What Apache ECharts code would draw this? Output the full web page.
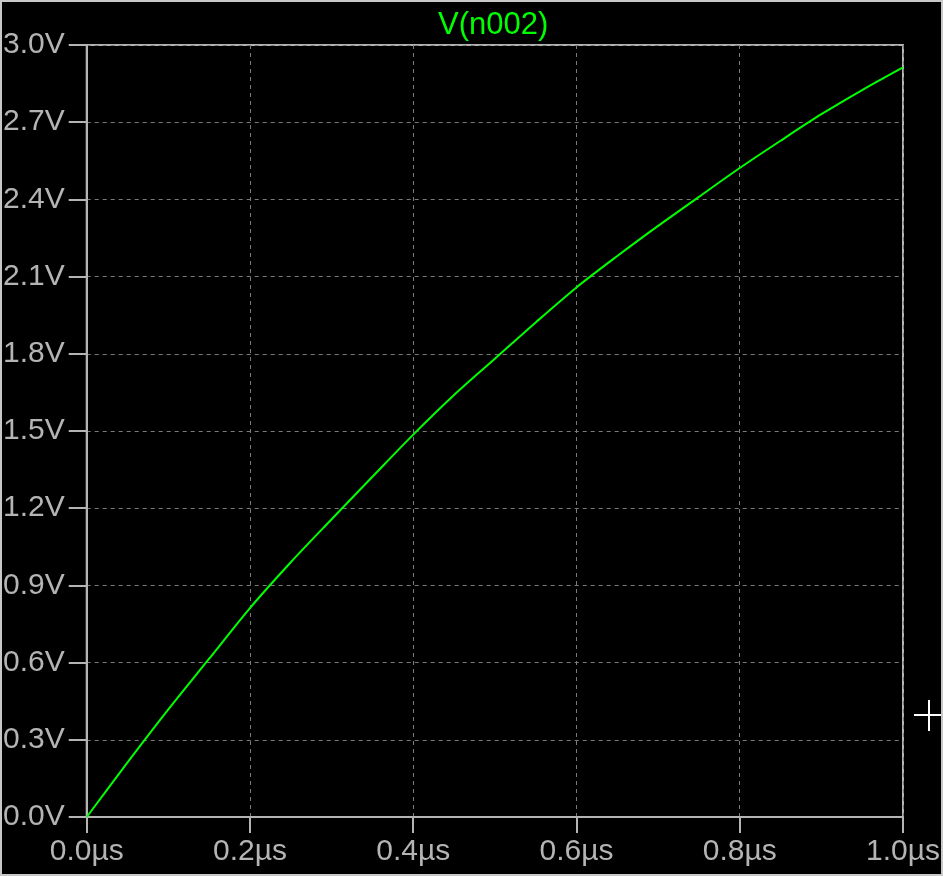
<!DOCTYPE html>
<html>
<head>
<meta charset="utf-8">
<script src="https://cdn.jsdelivr.net/npm/echarts@6/dist/echarts.min.js"></script>
<style>
html,body{margin:0;padding:0;background:#000;}
#chart{width:943px;height:876px;}
</style>
</head>
<body>
<div id="chart"></div>
<script>
var titleText = 'V(n002)';
var timeUs = [0, 0.05, 0.1, 0.15, 0.2, 0.25, 0.3, 0.35, 0.4, 0.45, 0.5, 0.55, 0.6, 0.65, 0.7, 0.75, 0.8, 0.85, 0.9, 0.95, 1.0];
var voltage = [0, 0.212, 0.418, 0.615, 0.812, 0.99, 1.157, 1.322, 1.486, 1.64, 1.781, 1.922, 2.058, 2.18, 2.297, 2.41, 2.522, 2.628, 2.731, 2.825, 2.913];
var xTicks = [0.0, 0.2, 0.4, 0.6, 0.8, 1.0];
var yTicks = [0.0, 0.3, 0.6, 0.9, 1.2, 1.5, 1.8, 2.1, 2.4, 2.7, 3.0];

var seriesData = timeUs.map(function (t, i) { return [t, voltage[i]]; });
var FONT = 'Liberation Sans';
var GRAY = '#b4b4b4';

var chart = echarts.init(document.getElementById('chart'));
chart.setOption({
  backgroundColor: '#000',
  animation: false,
  title: {
    text: titleText,
    left: 433,
    top: 5,
    textStyle: { color: '#00ff00', fontFamily: FONT, fontSize: 31, fontWeight: 'normal' }
  },
  grid: {
    left: 85, right: 40, top: 45, bottom: 59,
    show: true, borderColor: GRAY, borderWidth: 2, backgroundColor: 'transparent'
  },
  xAxis: {
    type: 'value',
    min: xTicks[0], max: xTicks[xTicks.length - 1], interval: 0.2,
    axisLine: { show: true, lineStyle: { color: GRAY, width: 2 } },
    axisTick: { show: true, length: 16, lineStyle: { color: GRAY, width: 2 } },
    axisLabel: {
      color: GRAY, fontFamily: FONT, fontSize: 30, margin: 20,
      showMinLabel: true, showMaxLabel: true,
      formatter: function (v) { return v.toFixed(1) + 'µs'; }
    },
    splitLine: { show: true, lineStyle: { color: '#7a7a7a', width: 1, type: [4, 4] } }
  },
  yAxis: {
    type: 'value',
    min: yTicks[0], max: yTicks[yTicks.length - 1], interval: 0.3,
    axisLine: { show: true, lineStyle: { color: GRAY, width: 2 } },
    axisTick: { show: true, length: 18, lineStyle: { color: GRAY, width: 2 } },
    axisLabel: {
      color: GRAY, fontFamily: FONT, fontSize: 30, margin: 22,
      showMinLabel: true, showMaxLabel: true,
      formatter: function (v) { return v.toFixed(1) + 'V'; }
    },
    splitLine: { show: true, lineStyle: { color: '#7a7a7a', width: 1, type: [4, 4] } }
  },
  series: [{
    type: 'line',
    data: seriesData,
    showSymbol: false,
    symbol: 'none',
    smooth: 0.3,
    lineStyle: { color: '#00ff00', width: 2 },
    z: 5
  }],
  graphic: [
    { type: 'rect', shape: { x: 1, y: 1, width: 941, height: 874 }, style: { fill: 'none', stroke: '#c8c8c8', lineWidth: 2 }, silent: true },
    { type: 'line', shape: { x1: 914, y1: 715, x2: 941, y2: 715 }, style: { stroke: '#ffffff', lineWidth: 2 }, silent: true },
    { type: 'line', shape: { x1: 929, y1: 700, x2: 929, y2: 731 }, style: { stroke: '#ffffff', lineWidth: 2 }, silent: true }
  ]
});
</script>
</body>
</html>
